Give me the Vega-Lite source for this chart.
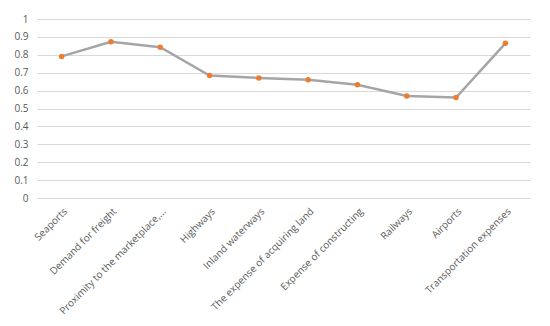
{
  "$schema": "https://vega.github.io/schema/vega-lite/v6.json",
  "autosize": {"type": "none"},
  "width": 493,
  "height": 179,
  "padding": {"left": 37, "top": 19, "right": 20, "bottom": 128},
  "background": "white",
  "config": {
    "view": {"stroke": null},
    "font": "Open Sans",
    "axis": {"labelColor": "#595959", "labelFontSize": 10, "domain": false, "ticks": false, "title": null}
  },
  "data": {
    "values": [
      {"factor": "Seaports", "value": 0.791},
      {"factor": "Demand for freight", "value": 0.873},
      {"factor": "Proximity to the marketplace,...", "value": 0.842},
      {"factor": "Highways", "value": 0.684},
      {"factor": "Inland waterways", "value": 0.671},
      {"factor": "The expense of acquiring land", "value": 0.661},
      {"factor": "Expense of constructing", "value": 0.633},
      {"factor": "Railways", "value": 0.570},
      {"factor": "Airports", "value": 0.561},
      {"factor": "Transportation expenses", "value": 0.864}
    ]
  },
  "encoding": {
    "x": {
      "field": "factor", "type": "nominal", "sort": null,
      "scale": {"type": "point", "padding": 0.5},
      "axis": {"labelAngle": -45, "labelAlign": "right", "labelBaseline": "top", "labelPadding": 8, "grid": false, "labelOverlap": false, "labelLimit": 300}
    },
    "y": {
      "field": "value", "type": "quantitative",
      "scale": {"domain": [0, 1], "nice": false},
      "axis": {"values": [0, 0.1, 0.2, 0.3, 0.4, 0.5, 0.6, 0.7, 0.8, 0.9, 1], "format": "~g", "gridColor": "#d9d9d9", "gridWidth": 1, "labelPadding": 9}
    }
  },
  "layer": [
    {"mark": {"type": "line", "color": "#a5a5a5", "strokeWidth": 2.5}},
    {"mark": {"type": "point", "filled": true, "color": "#ed7d31", "size": 30, "opacity": 1}}
  ]
}
